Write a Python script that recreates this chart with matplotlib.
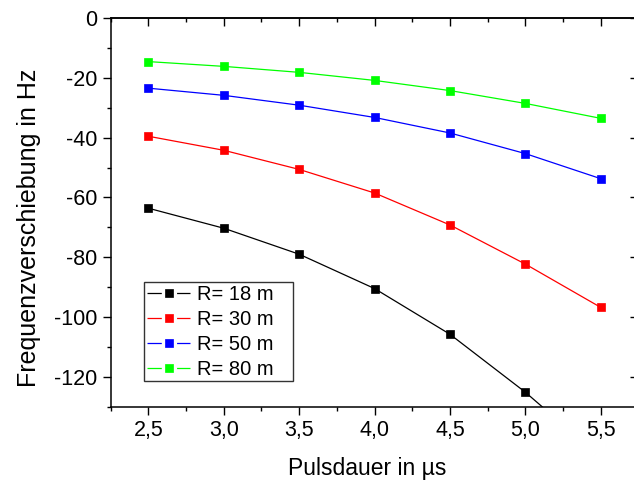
import matplotlib
matplotlib.use("Agg")
import matplotlib.pyplot as plt
from matplotlib.lines import Line2D
from matplotlib.patches import Rectangle
from matplotlib.ticker import MultipleLocator, FuncFormatter

plt.rcParams['font.family'] = ['Liberation Sans', 'DejaVu Sans']
plt.rcParams['lines.scale_dashes'] = False

# Pulse duration (µs) and frequency shift (Hz) for each range R
pulse_us = [2.5, 3.0, 3.5, 4.0, 4.5, 5.0, 5.5]
shift_r18 = [-63.6, -70.3, -79.0, -90.5, -105.8, -125.2, -147.0]
shift_r30 = [-39.5, -44.2, -50.6, -58.5, -69.2, -82.3, -96.8]
shift_r50 = [-23.4, -25.8, -29.1, -33.2, -38.4, -45.3, -53.7]
shift_r80 = [-14.5, -16.1, -18.1, -20.8, -24.2, -28.5, -33.5]
series_labels = ['R= 18 m', 'R= 30 m', 'R= 50 m', 'R= 80 m']
series_colors = ['#000000', '#ff0000', '#0000ff', '#00ff00']

fig = plt.figure(figsize=(6.34, 4.84), dpi=100)
ax = fig.add_axes([0.1746, 0.1601, 0.8323, 0.8021])

handles = []
for ys, lab, col in zip([shift_r18, shift_r30, shift_r50, shift_r80],
                        series_labels, series_colors):
    ax.plot(pulse_us, ys, '-', color=col, lw=0.9, marker='s', ms=6.4,
            mfc=col, mec=col, mew=0.5)
    # legend key: line broken around the marker
    handles.append(Line2D([], [], color=col, lw=0.9,
                          linestyle=(0, (10.3, 11.0, 20.0, 0.1)),
                          marker='s', ms=5.3, mfc=col, mec=col, mew=0.5,
                          label=lab))

ax.set_xlim(2.25, 5.75)
ax.set_ylim(-130, 0)

ax.xaxis.set_major_locator(MultipleLocator(0.5))
ax.xaxis.set_minor_locator(MultipleLocator(0.25))
ax.yaxis.set_major_locator(MultipleLocator(20))
ax.yaxis.set_minor_locator(MultipleLocator(10))
ax.xaxis.set_major_formatter(FuncFormatter(lambda v, p: f"{v:.1f}".replace('.', ',')))
ax.yaxis.set_major_formatter(FuncFormatter(lambda v, p: f"{v:.0f}"))

for s in ax.spines.values():
    s.set_linewidth(1.1)

ax.tick_params(which='major', direction='out', length=5.8, width=1.0,
               labelsize=15.5, pad=4)
ax.tick_params(which='minor', direction='out', length=3.2, width=1.0)

# mirrored inward ticks on top and right
top = ax.secondary_xaxis('top')
top.xaxis.set_major_locator(MultipleLocator(0.5))
top.xaxis.set_minor_locator(MultipleLocator(0.25))
top.tick_params(which='major', direction='in', length=5.6, width=1.0, labeltop=False)
top.tick_params(which='minor', direction='in', length=3.0, width=1.0)
top.spines['top'].set_linewidth(1.1)
right = ax.secondary_yaxis('right')
right.yaxis.set_major_locator(MultipleLocator(20))
right.yaxis.set_minor_locator(MultipleLocator(10))
right.tick_params(which='major', direction='in', length=5.6, width=1.0, labelright=False)
right.tick_params(which='minor', direction='in', length=3.0, width=1.0)

ax.set_xlabel('Pulsdauer in µs', fontsize=16.5)
ax.set_ylabel('Frequenzverschiebung in Hz', fontsize=18)
ax.xaxis.set_label_coords(0.487, -0.1288)
ax.yaxis.set_label_coords(-0.1326, 0.46)

# legend frame and entries
ax.add_patch(Rectangle((0.0631, 0.0657), 0.3455 - 0.0631, 0.3207 - 0.0657,
                       transform=ax.transAxes, fill=True, facecolor='white',
                       edgecolor='#333333', lw=1.0, zorder=4))
leg = ax.legend(handles=handles, loc='upper left', bbox_to_anchor=(0.063, 0.3207),
                fontsize=14.5, frameon=False, handlelength=2.15,
                handletextpad=0.33, borderpad=0.15, labelspacing=0.3,
                borderaxespad=0)
leg.set_zorder(5)

fig.savefig('out.png', dpi=100)
